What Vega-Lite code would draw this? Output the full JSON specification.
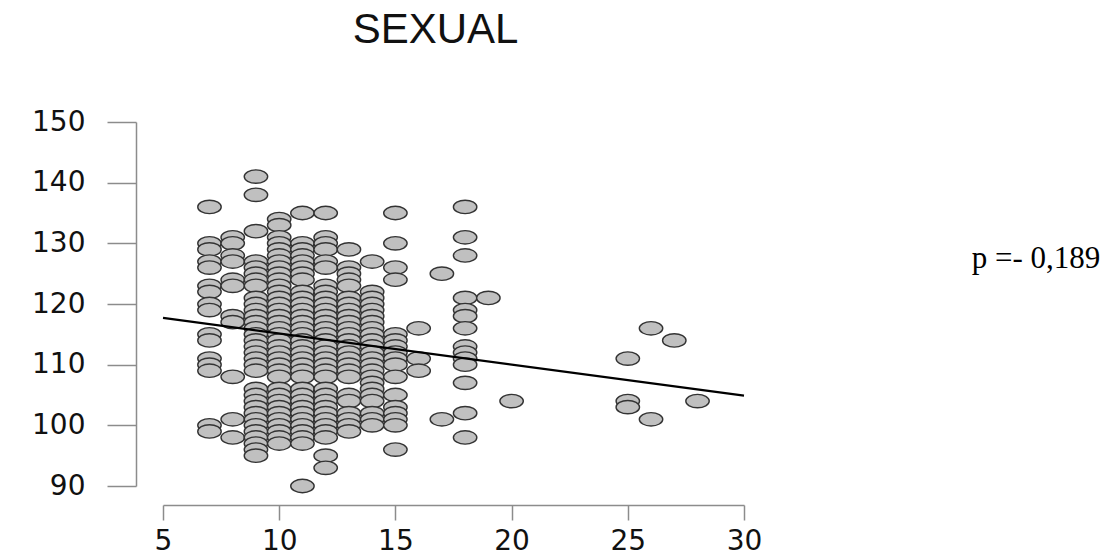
{
  "$schema": "https://vega.github.io/schema/vega-lite/v6.json",
  "autosize": "none",
  "width": 581,
  "height": 364,
  "padding": {"left": 163, "top": 122, "right": 364, "bottom": 70},
  "background": "white",
  "config": {"view": {"stroke": null}},
  "title": {"text": "SEXUAL", "fontSize": 42, "font": "Liberation Sans", "fontWeight": "normal", "color": "#111111", "anchor": "middle", "dx": -18, "offset": 56},
  "datasets": {
    "pts": [
      {"x":7,"y":136},{"x":7,"y":130},{"x":7,"y":129},{"x":7,"y":127},{"x":7,"y":126},{"x":7,"y":123},{"x":7,"y":122},{"x":7,"y":120},{"x":7,"y":119},{"x":7,"y":115},{"x":7,"y":114},{"x":7,"y":111},{"x":7,"y":110},{"x":7,"y":109},{"x":7,"y":100},{"x":7,"y":99},
      {"x":8,"y":131},{"x":8,"y":130},{"x":8,"y":128},{"x":8,"y":127},{"x":8,"y":124},{"x":8,"y":123},{"x":8,"y":118},{"x":8,"y":117},{"x":8,"y":108},{"x":8,"y":101},{"x":8,"y":98},
      {"x":9,"y":141},{"x":9,"y":138},{"x":9,"y":132},{"x":9,"y":127},{"x":9,"y":126},{"x":9,"y":125},{"x":9,"y":124},{"x":9,"y":123},{"x":9,"y":121},{"x":9,"y":120},{"x":9,"y":119},{"x":9,"y":118},{"x":9,"y":117},{"x":9,"y":116},{"x":9,"y":115},{"x":9,"y":114},{"x":9,"y":113},{"x":9,"y":112},{"x":9,"y":111},{"x":9,"y":110},{"x":9,"y":109},{"x":9,"y":106},{"x":9,"y":105},{"x":9,"y":104},{"x":9,"y":103},{"x":9,"y":102},{"x":9,"y":101},{"x":9,"y":100},{"x":9,"y":99},{"x":9,"y":98},{"x":9,"y":97},{"x":9,"y":96},{"x":9,"y":95},
      {"x":10,"y":134},{"x":10,"y":133},{"x":10,"y":131},{"x":10,"y":130},{"x":10,"y":129},{"x":10,"y":128},{"x":10,"y":127},{"x":10,"y":126},{"x":10,"y":125},{"x":10,"y":124},{"x":10,"y":123},{"x":10,"y":122},{"x":10,"y":121},{"x":10,"y":120},{"x":10,"y":119},{"x":10,"y":118},{"x":10,"y":117},{"x":10,"y":116},{"x":10,"y":115},{"x":10,"y":114},{"x":10,"y":113},{"x":10,"y":112},{"x":10,"y":111},{"x":10,"y":110},{"x":10,"y":109},{"x":10,"y":108},{"x":10,"y":106},{"x":10,"y":105},{"x":10,"y":104},{"x":10,"y":103},{"x":10,"y":102},{"x":10,"y":101},{"x":10,"y":100},{"x":10,"y":99},{"x":10,"y":98},{"x":10,"y":97},
      {"x":11,"y":135},{"x":11,"y":130},{"x":11,"y":129},{"x":11,"y":128},{"x":11,"y":127},{"x":11,"y":126},{"x":11,"y":125},{"x":11,"y":124},{"x":11,"y":122},{"x":11,"y":121},{"x":11,"y":120},{"x":11,"y":119},{"x":11,"y":118},{"x":11,"y":117},{"x":11,"y":116},{"x":11,"y":115},{"x":11,"y":114},{"x":11,"y":113},{"x":11,"y":112},{"x":11,"y":111},{"x":11,"y":110},{"x":11,"y":109},{"x":11,"y":108},{"x":11,"y":106},{"x":11,"y":105},{"x":11,"y":104},{"x":11,"y":103},{"x":11,"y":102},{"x":11,"y":101},{"x":11,"y":100},{"x":11,"y":99},{"x":11,"y":98},{"x":11,"y":97},{"x":11,"y":90},
      {"x":12,"y":135},{"x":12,"y":131},{"x":12,"y":130},{"x":12,"y":129},{"x":12,"y":127},{"x":12,"y":126},{"x":12,"y":123},{"x":12,"y":122},{"x":12,"y":121},{"x":12,"y":120},{"x":12,"y":119},{"x":12,"y":118},{"x":12,"y":117},{"x":12,"y":116},{"x":12,"y":115},{"x":12,"y":114},{"x":12,"y":113},{"x":12,"y":112},{"x":12,"y":111},{"x":12,"y":110},{"x":12,"y":109},{"x":12,"y":108},{"x":12,"y":106},{"x":12,"y":105},{"x":12,"y":104},{"x":12,"y":103},{"x":12,"y":102},{"x":12,"y":101},{"x":12,"y":100},{"x":12,"y":99},{"x":12,"y":98},{"x":12,"y":95},{"x":12,"y":93},
      {"x":13,"y":129},{"x":13,"y":126},{"x":13,"y":125},{"x":13,"y":124},{"x":13,"y":123},{"x":13,"y":121},{"x":13,"y":120},{"x":13,"y":119},{"x":13,"y":118},{"x":13,"y":117},{"x":13,"y":116},{"x":13,"y":115},{"x":13,"y":114},{"x":13,"y":113},{"x":13,"y":112},{"x":13,"y":111},{"x":13,"y":110},{"x":13,"y":109},{"x":13,"y":108},{"x":13,"y":105},{"x":13,"y":104},{"x":13,"y":102},{"x":13,"y":101},{"x":13,"y":100},{"x":13,"y":99},
      {"x":14,"y":127},{"x":14,"y":122},{"x":14,"y":121},{"x":14,"y":120},{"x":14,"y":119},{"x":14,"y":118},{"x":14,"y":117},{"x":14,"y":116},{"x":14,"y":115},{"x":14,"y":114},{"x":14,"y":113},{"x":14,"y":112},{"x":14,"y":111},{"x":14,"y":110},{"x":14,"y":109},{"x":14,"y":108},{"x":14,"y":107},{"x":14,"y":106},{"x":14,"y":105},{"x":14,"y":104},{"x":14,"y":102},{"x":14,"y":101},{"x":14,"y":100},
      {"x":15,"y":135},{"x":15,"y":130},{"x":15,"y":126},{"x":15,"y":124},{"x":15,"y":115},{"x":15,"y":114},{"x":15,"y":113},{"x":15,"y":112},{"x":15,"y":111},{"x":15,"y":110},{"x":15,"y":108},{"x":15,"y":105},{"x":15,"y":103},{"x":15,"y":102},{"x":15,"y":101},{"x":15,"y":100},{"x":15,"y":96},
      {"x":16,"y":116},{"x":16,"y":111},{"x":16,"y":109},
      {"x":17,"y":125},{"x":17,"y":101},
      {"x":18,"y":136},{"x":18,"y":131},{"x":18,"y":128},{"x":18,"y":121},{"x":18,"y":119},{"x":18,"y":118},{"x":18,"y":116},{"x":18,"y":113},{"x":18,"y":112},{"x":18,"y":111},{"x":18,"y":110},{"x":18,"y":107},{"x":18,"y":102},{"x":18,"y":98},
      {"x":19,"y":121},
      {"x":20,"y":104},
      {"x":25,"y":111},{"x":25,"y":104},{"x":25,"y":103},
      {"x":26,"y":116},{"x":26,"y":101},
      {"x":27,"y":114},
      {"x":28,"y":104}
    ],
    "fit": [{"x": 5, "y": 117.7}, {"x": 30, "y": 104.9}],
    "note": [{"x": 39.8, "y": 127.4, "label": "p =- 0,189"}]
  },
  "layer": [
    {
      "data": {"name": "pts"},
      "mark": {"type": "point", "filled": true, "shape": "M -1 0 A 1 0.57 0 1 0 1 0 A 1 0.57 0 1 0 -1 0 Z", "size": 550, "fill": "#c0c0c0", "stroke": "#333333", "strokeWidth": 1.4, "opacity": 1},
      "encoding": {
        "x": {"field": "x", "type": "quantitative", "scale": {"domain": [5, 30], "nice": false, "zero": false},
          "axis": {"values": [5, 10, 15, 20, 25, 30], "offset": 19, "tickSize": 15, "labelPadding": 7, "labelFontSize": 28, "labelFont": "DejaVu Sans", "labelFontWeight": "normal", "labelColor": "#111111", "domainColor": "#8c8c8c", "tickColor": "#8c8c8c", "domainWidth": 1.5, "tickWidth": 1.5, "grid": false, "title": null, "labelFlush": false}},
        "y": {"field": "y", "type": "quantitative", "scale": {"domain": [90, 150], "nice": false, "zero": false},
          "axis": {"values": [90, 100, 110, 120, 130, 140, 150], "offset": 27, "tickSize": 29, "labelPadding": 22, "labelFontSize": 28, "labelFont": "DejaVu Sans", "labelFontWeight": "normal", "labelColor": "#111111", "domainColor": "#8c8c8c", "tickColor": "#8c8c8c", "domainWidth": 1.5, "tickWidth": 1.5, "grid": false, "title": null, "labelFlush": false}}
      }
    },
    {
      "data": {"name": "fit"},
      "mark": {"type": "line", "color": "#000000", "strokeWidth": 2.2},
      "encoding": {
        "x": {"field": "x", "type": "quantitative"},
        "y": {"field": "y", "type": "quantitative"}
      }
    },
    {
      "data": {"name": "note"},
      "mark": {"type": "text", "align": "left", "baseline": "middle", "font": "Liberation Serif", "fontSize": 31, "color": "#000000"},
      "encoding": {
        "x": {"field": "x", "type": "quantitative"},
        "y": {"field": "y", "type": "quantitative"},
        "text": {"field": "label"}
      }
    }
  ]
}
